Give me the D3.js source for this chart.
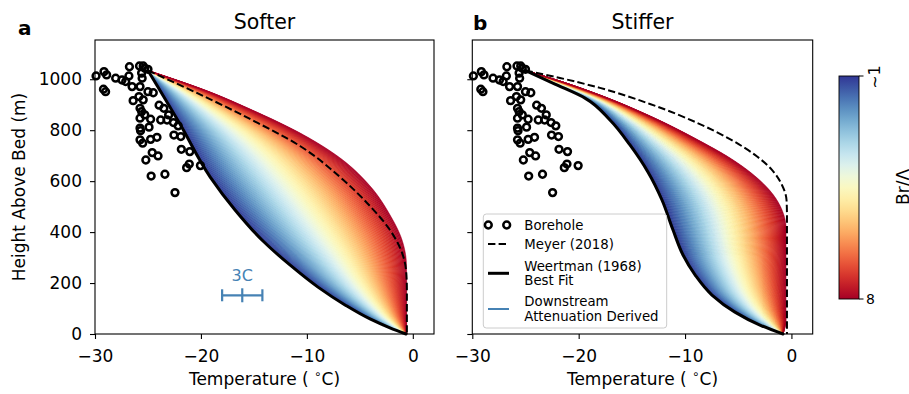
<!DOCTYPE html>
<html><head><meta charset="utf-8">
<script src="https://cdn.jsdelivr.net/npm/d3@7"></script>
<style>
body{margin:0;background:#fff}
svg{display:block}
text{font-family:"DejaVu Sans",sans-serif;fill:#000}
</style>
</head><body>
<svg id="c" width="909" height="394"></svg>
<script>
// ---------------- DATA ----------------
const boreholeT = [-29.9,-29.15,-28.9,-29.2,-29.0,-28.05,-27.45,-26.75,-26.8,-27.1,-26.5,-25.8,-25.45,-25.3,-25.0,-25.6,-25.55,-25.75,-25.0,-24.5,-26.4,-25.85,-25.45,-25.75,-25.6,-23.95,-23.5,-25.75,-25.3,-24.75,-23.05,-23.2,-23.8,-25.75,-24.9,-25.7,-22.6,-22.15,-25.75,-25.5,-24.75,-24.15,-22.55,-21.9,-21.85,-21.05,-24.6,-24.05,-25.2,-21.1,-21.35,-20.05,-24.7,-23.4,-22.45];
const boreholeH = [1013,1030,1017,961,951,1004,997,1049,1013,991,971,1052,1052,1043,1039,1024,1004,971,951,947,916,932,919,886,873,898,886,847,860,843,860,840,840,808,812,798,830,817,762,749,764,772,781,775,725,716,712,699,683,667,653,661,620,627,555];

// Softer (panel a) — heights (m) top to bottom, temperatures (°C)
const softerFitH   = [1034, 824, 617, 487, 369, 271, 184, 114, 59, 24, 0];
const softerFitT   = [-25.0, -21.98, -19.14, -16.78, -14.24, -11.60, -8.95, -6.40, -4.04, -2.16, -0.64];
const softerHighH  = [1034, 950, 883, 789, 691, 581, 467, 369, 271, 173, 0];
const softerHighT  = [-25.0, -19.15, -15.37, -10.65, -6.87, -4.04, -2.15, -1.02, -0.60, -0.58, -0.58];
const softerMeyerH = [1034, 922, 844, 738, 616, 502, 408, 330, 251, 173, 0];
const softerMeyerT = [-25.0, -19.15, -15.37, -10.65, -6.87, -4.04, -2.15, -1.12, -0.64, -0.56, -0.56];

// Stiffer (panel b)
const stifferFitH   = [1034, 981, 926, 840, 742, 636, 526, 408, 310, 232, 153, 86, 35, 0];
const stifferFitT   = [-25.0, -22.23, -19.41, -17.06, -15.18, -13.49, -12.17, -11.13, -10.19, -9.06, -7.47, -5.31, -2.96, -0.79];
const stifferHighH  = [1034, 993, 938, 856, 758, 691, 620, 553, 487, 416, 55, 0];
const stifferHighT  = [-25.0, -21.76, -18.00, -13.30, -8.61, -5.78, -3.43, -1.83, -0.89, -0.51, -0.51, -0.79];
const stifferMeyerH = [1034, 1005, 966, 903, 824, 765, 703, 644, 585, 526, 467, 0];
const stifferMeyerT = [-25.0, -21.76, -18.00, -13.30, -8.61, -5.78, -3.43, -1.83, -0.89, -0.46, -0.42, -0.42];

// attenuation-derived uncertainty bar (panel a)
const attenCenterT = -16.1, attenHalfWidth = 1.9, attenH = 152, attenLabel = "3C";

const xTicks = [-30, -20, -10, 0];
const yTicks = [0, 200, 400, 600, 800, 1000];
const cbValues = [1, 8];
const cbTickLabels = ["~1", "8"];
const titles = ["Softer", "Stiffer"];
const panelLetters = ["a", "b"];
const legendLabels = [["Borehole"], ["Meyer (2018)"], ["Weertman (1968)", "Best Fit"], ["Downstream", "Attenuation Derived"]];

// ---------------- DRAW ----------------
const svg = d3.select("#c");
const blue = "#4682b4";
const zip = (H, T) => H.map((h, i) => ({H: h, T: T[i]}));

const yScale = d3.scaleLinear().domain([0, 1154]).range([334, 40]);
const panels = [
  {x0: 95, x1: 434, fit: zip(softerFitH, softerFitT), high: zip(softerHighH, softerHighT), meyer: zip(softerMeyerH, softerMeyerT), letterY: 35},
  {x0: 472.3, x1: 812.7, fit: zip(stifferFitH, stifferFitT), high: zip(stifferHighH, stifferHighT), meyer: zip(stifferMeyerH, stifferMeyerT), letterY: 30}
];
const defs = svg.append("defs");

panels.forEach((p, pi) => {
  const xs = d3.scaleLinear().domain([-30, 2]).range([p.x0, p.x1]);
  const g = svg.append("g");
  const clipId = "clip" + pi;
  defs.append("clipPath").attr("id", clipId).append("rect")
    .attr("x", p.x0).attr("y", 40).attr("width", p.x1 - p.x0).attr("height", 294);

  const line = d3.line().x(d => xs(d.T)).y(d => yScale(d.H)).curve(d3.curveMonotoneY);

  function sampler(pts) {
    const path = svg.append("path").attr("d", line(pts)).attr("fill", "none");
    const node = path.node(), L = node.getTotalLength();
    const arr = [];
    for (let i = 0; i <= 1200; i++) { const q = node.getPointAtLength(L * i / 1200); arr.push([q.y, q.x]); }
    path.remove();
    arr.sort((a, b) => a[0] - b[0]);
    const bis = d3.bisector(d => d[0]).left;
    return y => {
      const i = bis(arr, y);
      if (i <= 0) return arr[0][1];
      if (i >= arr.length) return arr[arr.length - 1][1];
      const a = arr[i - 1], b = arr[i];
      const t = (b[0] - a[0]) ? (y - a[0]) / (b[0] - a[0]) : 0;
      return a[1] + t * (b[1] - a[1]);
    };
  }
  const xb = sampler(p.fit), xr = sampler(p.high);
  const yTop = yScale(p.fit[0].H), yBot = yScale(0);
  const ys = d3.range(yTop, yBot, 0.5).concat([yBot]);
  const N = 110;
  const shade = g.append("g").attr("clip-path", `url(#${clipId})`);
  for (let k = 0; k < N; k++) {
    const s0 = k / N, s1 = (k + 1) / N;
    const a = ys.map(y => [xb(y) * (1 - s0) + xr(y) * s0, y]);
    const b = ys.map(y => [xb(y) * (1 - s1) + xr(y) * s1, y]).reverse();
    const col = d3.interpolateRdYlBu(1 - (k + 0.5) / N);
    shade.append("path").attr("d", "M" + a.concat(b).map(q => q.join(",")).join("L") + "Z")
      .attr("fill", col).attr("stroke", col).attr("stroke-width", 0.6);
  }
  // Meyer dashed
  g.append("path").attr("d", line(p.meyer)).attr("fill", "none").attr("stroke", "#000")
    .attr("stroke-width", 2).attr("stroke-dasharray", "7.4,3.2").attr("clip-path", `url(#${clipId})`);
  // Weertman best fit
  g.append("path").attr("d", line(p.fit)).attr("fill", "none").attr("stroke", "#000")
    .attr("stroke-width", 3).attr("stroke-linecap", "round");

  // borehole points
  g.append("g").selectAll("circle").data(zip(boreholeH, boreholeT)).join("circle")
    .attr("cx", d => xs(d.T)).attr("cy", d => yScale(d.H)).attr("r", 3.4)
    .attr("fill", "none").attr("stroke", "#000").attr("stroke-width", 2.5);

  // error bar panel a
  if (pi === 0) {
    const eb = g.append("g").attr("stroke", blue).attr("stroke-width", 2.2);
    const yy = yScale(attenH);
    eb.append("line").attr("x1", xs(attenCenterT - attenHalfWidth)).attr("x2", xs(attenCenterT + attenHalfWidth)).attr("y1", yy).attr("y2", yy);
    [attenCenterT - attenHalfWidth, attenCenterT + attenHalfWidth].forEach(t =>
      eb.append("line").attr("x1", xs(t)).attr("x2", xs(t)).attr("y1", yy - 6).attr("y2", yy + 6));
    eb.append("line").attr("x1", xs(attenCenterT)).attr("x2", xs(attenCenterT)).attr("y1", yy - 7).attr("y2", yy + 7);
    g.append("text").attr("x", xs(attenCenterT)).attr("y", yy - 14).attr("text-anchor", "middle")
      .style("font-size", "16px").style("fill", blue).text(attenLabel);
  }

  // frame
  g.append("rect").attr("x", p.x0).attr("y", 40).attr("width", p.x1 - p.x0).attr("height", 294)
    .attr("fill", "none").attr("stroke", "#000").attr("stroke-width", 1.1);

  // x axis
  const xa = g.append("g").attr("transform", "translate(0,334)")
    .call(d3.axisBottom(xs).tickValues(xTicks).tickSize(5).tickPadding(11).tickFormat(d => d < 0 ? "\u2212" + Math.abs(d) : d));
  xa.select(".domain").remove();
  xa.selectAll("text").style("font-size", "17px").style("font-family", "DejaVu Sans");
  xa.selectAll("line").attr("stroke-width", 1.1);
  // y axis
  const ya = g.append("g").attr("transform", `translate(${p.x0},0)`)
    .call(d3.axisLeft(yScale).tickValues(yTicks).tickSize(5).tickPadding(8).tickFormat(pi === 0 ? d => d : () => ""));
  ya.select(".domain").remove();
  ya.selectAll("text").style("font-size", "17px").style("font-family", "DejaVu Sans");
  ya.selectAll("line").attr("stroke-width", 1.1);

  // x label
  const xl = g.append("text").attr("x", (p.x0 + p.x1) / 2).attr("y", 385).attr("text-anchor", "middle").style("font-size", "17px");
  xl.append("tspan").text("Temperature ( ");
  xl.append("tspan").attr("dy", -7).style("font-size", "12px").text("\u2218");
  xl.append("tspan").attr("dy", 7).text("C)");

  // title
  g.append("text").attr("x", (p.x0 + p.x1) / 2).attr("y", 28.5).attr("text-anchor", "middle").style("font-size", "20.5px").text(titles[pi]);
  // letter
  g.append("text").attr("x", pi === 0 ? 18 : 473).attr("y", p.letterY).style("font-size", "20px").style("font-weight", "bold").text(panelLetters[pi]);

  if (pi === 0) {
    g.append("text").attr("transform", "translate(25,187) rotate(-90)").attr("text-anchor", "middle")
      .style("font-size", "17px").text("Height Above Bed (m)");
  }

  // legend in panel b
  if (pi === 1) {
    const lg = g.append("g");
    lg.append("rect").attr("x", 483.3).attr("y", 214).attr("width", 183.4).attr("height", 114).attr("rx", 3)
      .attr("fill", "#fff").attr("fill-opacity", 0.8).attr("stroke", "#cccccc").attr("stroke-width", 1);
    const tx = 524.3, fs = "13.3px";
    [488.3, 506.7].forEach(cx => lg.append("circle").attr("cx", cx).attr("cy", 225).attr("r", 3.4)
      .attr("fill", "none").attr("stroke", "#000").attr("stroke-width", 2.5));
    lg.append("text").attr("x", tx).attr("y", 225).attr("dy", "0.36em").style("font-size", fs).text(legendLabels[0][0]);
    lg.append("line").attr("x1", 488).attr("x2", 509).attr("y1", 244).attr("y2", 244).attr("stroke", "#000")
      .attr("stroke-width", 2).attr("stroke-dasharray", "7.4,3.2");
    lg.append("text").attr("x", tx).attr("y", 244).attr("dy", "0.36em").style("font-size", fs).text(legendLabels[1][0]);
    lg.append("line").attr("x1", 488).attr("x2", 509).attr("y1", 273.3).attr("y2", 273.3).attr("stroke", "#000").attr("stroke-width", 3);
    lg.append("text").attr("x", tx).attr("y", 266.7).attr("dy", "0.36em").style("font-size", fs).text(legendLabels[2][0]);
    lg.append("text").attr("x", tx).attr("y", 280.5).attr("dy", "0.36em").style("font-size", fs).text(legendLabels[2][1]);
    lg.append("line").attr("x1", 488).attr("x2", 509).attr("y1", 309).attr("y2", 309).attr("stroke", blue).attr("stroke-width", 2);
    lg.append("text").attr("x", tx).attr("y", 301).attr("dy", "0.36em").style("font-size", fs).text(legendLabels[3][0]);
    lg.append("text").attr("x", tx).attr("y", 316).attr("dy", "0.36em").style("font-size", fs).text(legendLabels[3][1]);
  }
});

// ---------------- COLORBAR ----------------
const cbX = 839, cbW = 20;
const cbScale = d3.scaleLinear().domain([8, 1]).range([299, 76]);
const grad = defs.append("linearGradient").attr("id", "cbgrad").attr("x1", 0).attr("x2", 0).attr("y1", 1).attr("y2", 0);
d3.range(0, 1.0001, 0.05).forEach(t => grad.append("stop").attr("offset", t).attr("stop-color", d3.interpolateRdYlBu(t)));
svg.append("rect").attr("x", cbX).attr("y", cbScale(1)).attr("width", cbW).attr("height", cbScale(8) - cbScale(1))
  .attr("fill", "url(#cbgrad)").attr("stroke", "#000").attr("stroke-width", 0.9);
cbValues.forEach((v, i) => {
  const yy = cbScale(v);
  svg.append("line").attr("x1", cbX + cbW).attr("x2", cbX + cbW + 4.5).attr("y1", yy).attr("y2", yy).attr("stroke", "#000").attr("stroke-width", 1);
  if (i === 0) {
    svg.append("text").attr("transform", `translate(${cbX + cbW + 15},${yy + 1}) rotate(-90)`).attr("text-anchor", "middle")
      .attr("dy", "0.36em").style("font-size", "16px").text(cbTickLabels[i]);
  } else {
    svg.append("text").attr("x", cbX + cbW + 7).attr("y", yy).attr("dy", "0.36em").style("font-size", "14px").text(cbTickLabels[i]);
  }
});
svg.append("text").attr("transform", "translate(909,187) rotate(-90)").attr("text-anchor", "middle")
  .style("font-size", "17px").text("Br/\u039B");
</script>
</body></html>
